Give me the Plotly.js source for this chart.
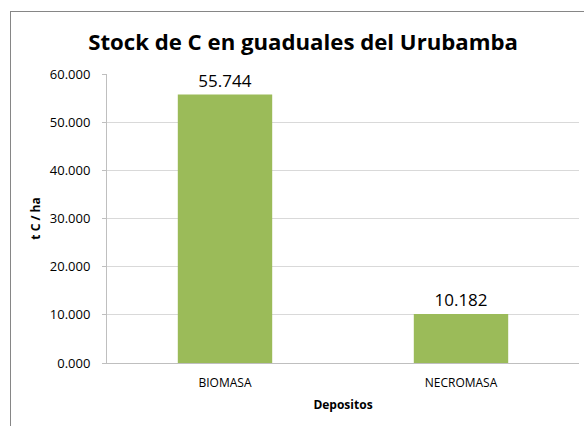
<!DOCTYPE html>
<html>
<head>
<meta charset="utf-8">
<script src="https://cdn.plot.ly/plotly-3.0.1.min.js"></script>
<style>
html,body{margin:0;padding:0;overflow:hidden;background:#fff;}
#chart{position:absolute;left:0;top:0;width:584px;height:426px;}
#frame{position:absolute;left:10px;top:11px;width:600px;height:450px;border:1.5px solid #868686;pointer-events:none;}
</style>
</head>
<body>
<div id="chart"></div>
<div id="frame"></div>
<script>
const categories = ["BIOMASA", "NECROMASA"];
const values = [55.744, 10.182];
const yTicks = [0, 10, 20, 30, 40, 50, 60];

const font = "Open Sans, Noto Sans, sans-serif";

const trace = {
  type: "bar",
  x: categories,
  y: values,
  marker: {color: "#9BBB59"},
  texttemplate: "%{y:.3f}",
  textposition: "outside",
  textfont: {family: font, size: 17, color: "#000"},
  cliponaxis: false,
  hoverinfo: "skip"
};

const layout = {
  width: 584,
  height: 426,
  margin: {l: 107, r: 5, t: 74, b: 63},
  paper_bgcolor: "#fff",
  plot_bgcolor: "#fff",
  bargap: 0.6,
  showlegend: false,
  title: {
    text: "<b>Stock de C en guaduales del Urubamba</b>",
    font: {family: font, size: 22.2, color: "#000"},
    x: 0.519, xanchor: "center",
    y: 0.901, yanchor: "middle",
    yref: "container", xref: "container"
  },
  xaxis: {
    type: "category",
    showgrid: false,
    showline: true,
    linecolor: "#BFBFBF",
    linewidth: 1,
    ticks: "",
    ticklabelstandoff: 9,
    tickfont: {family: font, size: 12, color: "#000"},
    title: {text: "<b>Depositos</b>", font: {family: font, size: 12, color: "#000"}, standoff: 10}
  },
  yaxis: {
    range: [0, 60],
    tickvals: yTicks,
    tickformat: ".3f",
    showgrid: true,
    gridcolor: "#D9D9D9",
    gridwidth: 1,
    zeroline: false,
    showline: true,
    linecolor: "#BFBFBF",
    linewidth: 1,
    ticks: "outside",
    ticklen: 4,
    tickcolor: "#BFBFBF",
    ticklabelstandoff: 9,
    tickfont: {family: font, size: 13, color: "#000"},
    title: {text: "<b>t C / ha</b>", font: {family: font, size: 12, color: "#000"}, standoff: 6}
  }
};

Plotly.newPlot("chart", [trace], layout, {displayModeBar: false, staticPlot: true});
</script>
</body>
</html>
